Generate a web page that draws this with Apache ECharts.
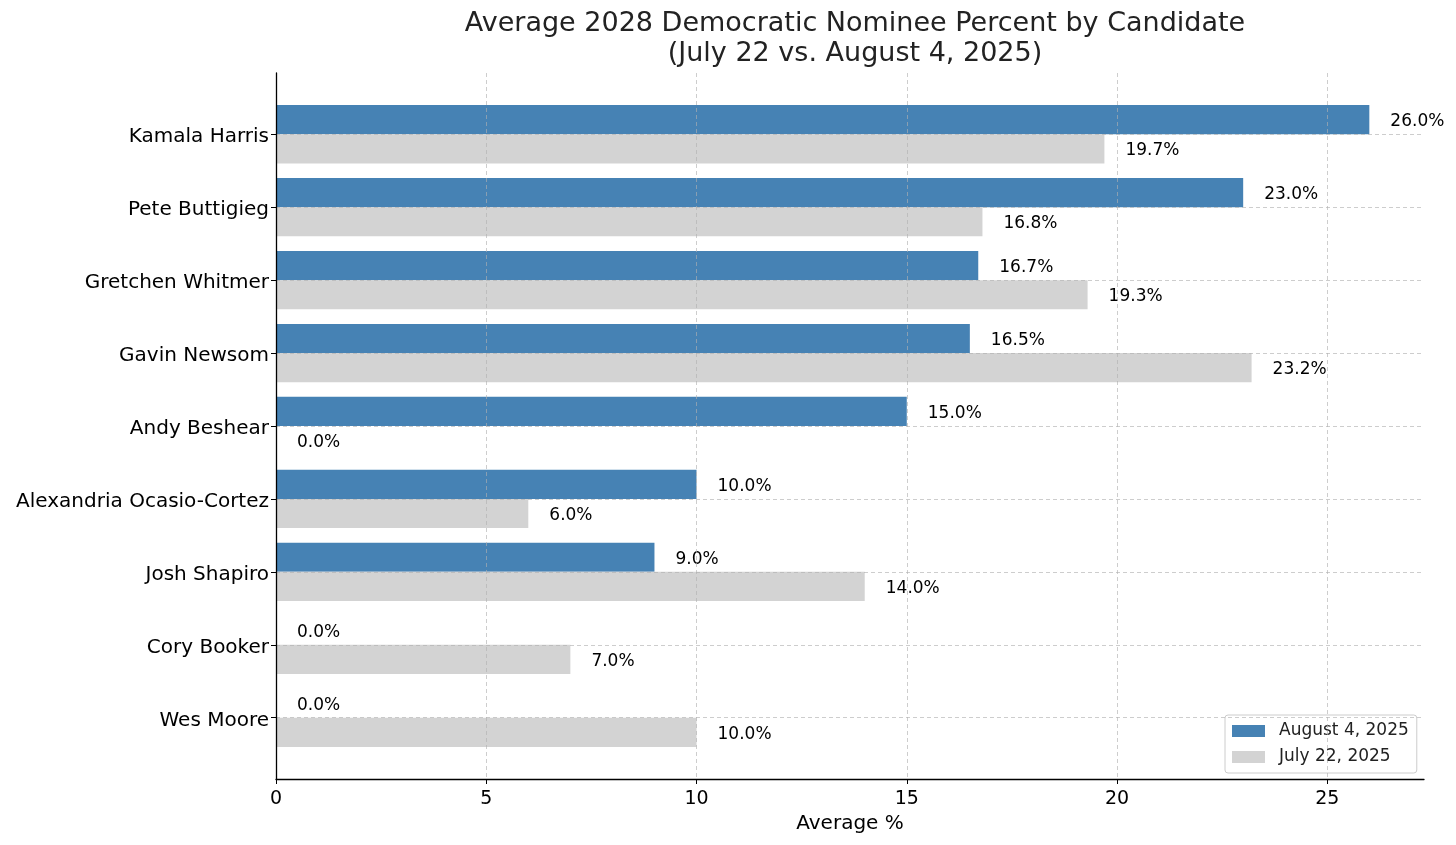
<!DOCTYPE html>
<html>
<head>
<meta charset="utf-8">
<script src="https://cdn.jsdelivr.net/npm/echarts@6/dist/echarts.min.js"></script>
<style>html,body{margin:0;padding:0;background:#fff}#c{width:1456px;height:845px}</style>
</head>
<body>
<div id="c"></div>
<script>
const candidates = ["Kamala Harris","Pete Buttigieg","Gretchen Whitmer","Gavin Newsom","Andy Beshear","Alexandria Ocasio-Cortez","Josh Shapiro","Cory Booker","Wes Moore"];
const aug4 = [26.0, 23.0, 16.7, 16.5, 15.0, 10.0, 9.0, 0.0, 0.0];
const jul22 = [19.7, 16.8, 19.3, 23.2, 0.0, 6.0, 14.0, 7.0, 10.0];
const seriesNames = ["August 4, 2025", "July 22, 2025"];
const xTicks = [0, 5, 10, 15, 20, 25];

const FONT = 'DejaVu Sans';
const chart = echarts.init(document.getElementById('c'), null, {renderer: 'canvas'});

function makeRender(offset, color) {
  return function (params, api) {
    const idx = api.value(0);
    const v = api.value(1);
    const p0 = api.coord([0, idx + offset]);
    const p1 = api.coord([v, idx + offset + 0.4]);
    const y0 = Math.min(p0[1], p1[1]);
    const h = Math.abs(p1[1] - p0[1]);
    const w = p1[0] - p0[0];
    const xLab = api.coord([v + 0.5, idx])[0];
    return {
      type: 'group',
      children: [
        {type: 'rect', shape: {x: p0[0], y: y0, width: w, height: h}, style: {fill: color}},
        {type: 'text', style: {x: xLab, y: y0 + h / 2 + 2, text: v.toFixed(1) + '%', fill: '#000', font: '17px "' + FONT + '"', verticalAlign: 'middle', align: 'left'}}
      ]
    };
  };
}

const idxs = candidates.map((_, i) => i);

chart.setOption({
  backgroundColor: '#fff',
  animation: false,
  textStyle: {fontFamily: FONT},
  title: {
    text: 'Average 2028 Democratic Nominee Percent by Candidate\n(July 22 vs. August 4, 2025)',
    left: 850, top: 4, textAlign: 'center',
    textStyle: {fontFamily: FONT, fontSize: 27, fontWeight: 'normal', color: '#222', lineHeight: 30}
  },
  legend: {
    orient: 'vertical', left: 1225, top: 715,
    data: seriesNames.map(n => ({name: n, icon: 'rect'})),
    itemWidth: 33, itemHeight: 12, itemGap: 6,
    padding: [6, 8, 6, 7],
    borderColor: '#cccccc', borderWidth: 1, borderRadius: 3,
    backgroundColor: 'rgba(255,255,255,0.8)',
    textStyle: {fontFamily: FONT, fontSize: 17, color: '#222', lineHeight: 20, padding: [0, 0, 0, 9]},
    selectedMode: false
  },
  grid: {left: 276, right: 32, top: 73, bottom: 66, containLabel: false},
  xAxis: {
    type: 'value', min: 0, max: 27.3, interval: 5,
    name: 'Average %', nameLocation: 'middle', nameGap: 34,
    nameTextStyle: {fontFamily: FONT, fontSize: 20, color: '#000'},
    axisLine: {show: true, onZero: false, lineStyle: {color: '#000', width: 1.3}},
    axisTick: {show: true, length: 5, lineStyle: {color: '#000'}, customValues: xTicks},
    axisLabel: {fontFamily: FONT, fontSize: 19, color: '#000', margin: 11, customValues: xTicks},
    splitLine: {show: true, lineStyle: {color: '#b0b0b0', type: [4, 3], width: 0.8, opacity: 0.8}},
    z: 5
  },
  yAxis: {
    type: 'value', min: -0.84, max: 8.84, inverse: true,
    axisLine: {show: true, onZero: false, lineStyle: {color: '#000', width: 1.3}},
    axisTick: {show: true, length: 5, lineStyle: {color: '#000'}, customValues: idxs},
    axisLabel: {fontFamily: FONT, fontSize: 20, color: '#000', margin: 7, customValues: idxs,
      formatter: v => '{n|' + (candidates[Math.round(v)] || '') + '}',
      rich: {n: {fontFamily: FONT, fontSize: 20, color: '#000', padding: [6, 0, 0, 0]}}},
    splitLine: {show: true, lineStyle: {color: '#b0b0b0', type: [4, 3], width: 0.8, opacity: 0.8}},
    z: 5
  },
  series: [
    {
      name: seriesNames[0], type: 'custom', itemStyle: {color: '#4682B4'},
      renderItem: makeRender(-0.4, '#4682B4'),
      data: aug4.map((v, i) => [i, v]), encode: {x: 1, y: 0}, z: 2
    },
    {
      name: seriesNames[1], type: 'custom', itemStyle: {color: '#D3D3D3'},
      renderItem: makeRender(0, '#D3D3D3'),
      data: jul22.map((v, i) => [i, v]), encode: {x: 1, y: 0}, z: 2
    }
  ]
});
</script>
</body>
</html>
